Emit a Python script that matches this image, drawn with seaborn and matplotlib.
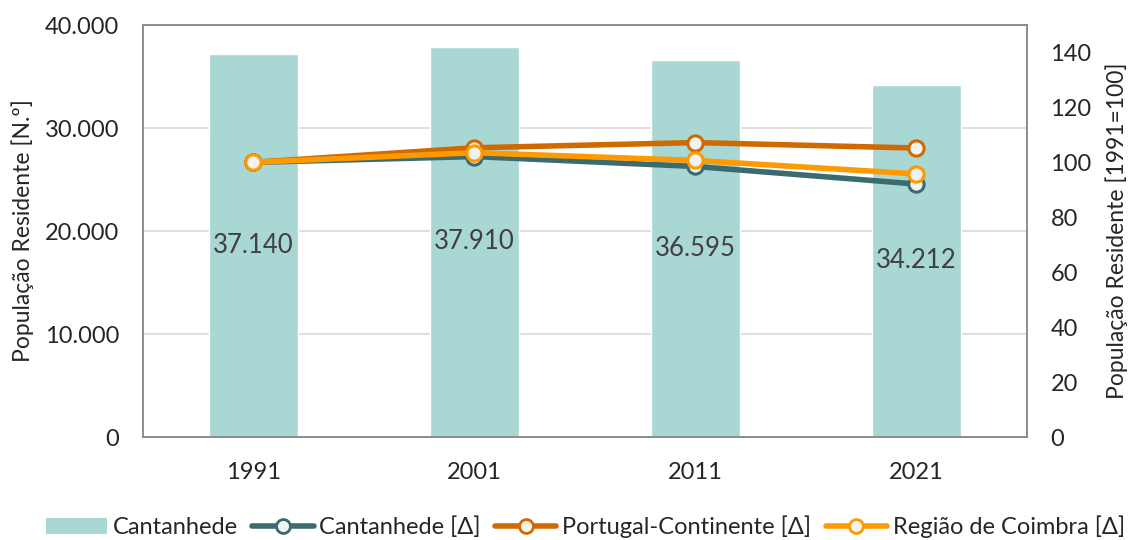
import numpy as np
import pandas as pd
import seaborn as sns
import matplotlib.pyplot as plt
from matplotlib.patches import Patch
from matplotlib.lines import Line2D
from matplotlib.ticker import FuncFormatter, MultipleLocator

# Data
years = ["1991", "2001", "2011", "2021"]
pop_cantanhede = [37140, 37910, 36595, 34212]
idx_cantanhede = [100.0, 102.1, 98.5, 92.1]
idx_portugal = [100.0, 105.3, 107.2, 105.2]
idx_coimbra = [100.0, 103.5, 100.7, 95.8]

bar_color = "#A9D7D3"
line_colors = {"Cantanhede [Δ]": "#3B6B6E",
               "Portugal-Continente [Δ]": "#D06A00",
               "Região de Coimbra [Δ]": "#FF9900"}

sns.set_theme(style="white")
plt.rcParams["font.family"] = ["Lato", "DejaVu Sans"]
txt = "#262626"

bars = pd.DataFrame({"pos": np.arange(len(years)), "year": years, "pop": pop_cantanhede})
lines = pd.concat([
    pd.DataFrame({"pos": np.arange(len(years)), "idx": idx_cantanhede, "serie": "Cantanhede [Δ]"}),
    pd.DataFrame({"pos": np.arange(len(years)), "idx": idx_portugal, "serie": "Portugal-Continente [Δ]"}),
    pd.DataFrame({"pos": np.arange(len(years)), "idx": idx_coimbra, "serie": "Região de Coimbra [Δ]"}),
])

fig = plt.figure(figsize=(11.32, 5.4), dpi=100)
ax = fig.add_axes([0.1263, 0.1907, 0.7808, 0.763])

sns.barplot(data=bars, x="year", y="pop", color=bar_color, width=0.4,
            saturation=1, ax=ax, zorder=2)
ax.set_ylim(0, 40000)
ax.set_xlim(-0.5, len(years) - 0.5)
ax.yaxis.set_major_locator(MultipleLocator(10000))
ax.yaxis.set_major_formatter(FuncFormatter(lambda v, p: f"{int(v):,}".replace(",", ".")))
ax.grid(axis="y", color="#D9D9D9", linewidth=1.2, zorder=0)
ax.set_axisbelow(True)
ax.set_xlabel("")
ax.set_ylabel("População Residente [N.º]", fontsize=16.5, color=txt, labelpad=8)
ax.tick_params(axis="y", labelsize=17, colors=txt, length=0, pad=17)
ax.tick_params(axis="x", labelsize=17, colors=txt, length=0, pad=18)
for s in ax.spines.values():
    s.set_color("#8C8C8C")
    s.set_linewidth(1.2)

for p, v in zip(ax.patches, pop_cantanhede):
    ax.text(p.get_x() + p.get_width() / 2, v / 2, f"{v:,}".replace(",", "."),
            ha="center", va="center", fontsize=18.5, color="#404040", zorder=5)

ax2 = ax.twinx()
for name, grp in lines.groupby("serie", sort=False):
    c = line_colors[name]
    sns.lineplot(data=grp, x="pos", y="idx", ax=ax2, color=c, linewidth=4,
                 marker="o", markersize=11, markerfacecolor="#F2F2F2",
                 markeredgecolor=c, markeredgewidth=2.2, legend=False)
ax2.set_ylim(0, 150)
ax2.set_xlim(-0.5, len(years) - 0.5)
ax2.set_yticks(np.arange(0, 141, 20))
ax2.set_xlabel("")
ax2.set_ylabel("População Residente [1991=100]", fontsize=16.5, color=txt, labelpad=10)
ax2.tick_params(axis="y", labelsize=17, colors=txt, length=0, pad=17)
for s in ax2.spines.values():
    s.set_color("#8C8C8C")
    s.set_linewidth(1.2)

handles = [Patch(facecolor=bar_color, edgecolor="none", label="Cantanhede")]
for name, c in line_colors.items():
    handles.append(Line2D([0], [0], color=c, linewidth=4, marker="o", markersize=10,
                          markerfacecolor="#F2F2F2", markeredgecolor=c,
                          markeredgewidth=2, label=name))
fig.legend(handles=handles, loc="center", bbox_to_anchor=(0.517, 0.024), ncol=4,
           frameon=False, fontsize=17, handlelength=2.6, handletextpad=0.25,
           columnspacing=0.6, labelcolor=txt, borderpad=0)

fig.savefig("out.png", dpi=100)
